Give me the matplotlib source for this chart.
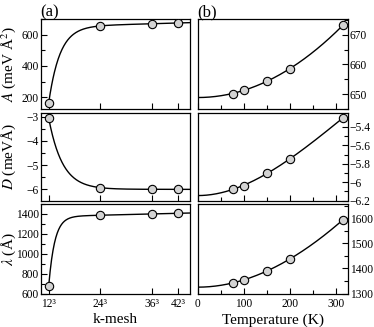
import numpy as np
import matplotlib
matplotlib.use("Agg")
import matplotlib.pyplot as plt
from matplotlib.ticker import MultipleLocator, FuncFormatter

plt.rcParams['font.family'] = ['Liberation Serif', 'DejaVu Serif']
plt.rcParams['mathtext.fontset'] = 'stix'
plt.rcParams['axes.unicode_minus'] = True

# k-mesh convergence (left column)
kmesh = [12, 24, 36, 42]
kmesh_labels = ['12³', '24³', '36³', '42³']
A_k = [166, 656, 669, 675]
D_k = [-3.07, -5.93, -6.0, -6.0]
lam_k = [680, 1388, 1398, 1408]

# temperature dependence (right column)
temps = [77, 100, 150, 200, 315]
A_T = [650.2, 651.4, 654.4, 658.6, 673.3]
D_T = [-6.073, -6.036, -5.90, -5.746, -5.30]
lam_T = [1343, 1354, 1391, 1438, 1595]


def fit_k(x, y, c):
    # saturating fit: a + b*k + d*exp(-(k-12)/c)
    x = np.asarray(x, float)
    M = np.column_stack([np.ones_like(x), x, np.exp(-(x - 12) / c)])
    coef, *_ = np.linalg.lstsq(M, np.asarray(y, float), rcond=None)
    xs = np.linspace(12, 45, 300)
    Ms = np.column_stack([np.ones_like(xs), xs, np.exp(-(xs - 12) / c)])
    return xs, Ms @ coef


def fit_T(x, y):
    # smooth fit with zero slope at T=0
    x = np.asarray(x, float)
    M = np.column_stack([np.ones_like(x), x ** 2, x ** 3])
    coef, *_ = np.linalg.lstsq(M, np.asarray(y, float), rcond=None)
    xs = np.linspace(0, x.max(), 300)
    Ms = np.column_stack([np.ones_like(xs), xs ** 2, xs ** 3])
    return xs, Ms @ coef


def fmt(v, pos):
    return ('%g' % v).replace('-', '\u2212')


fig = plt.figure(figsize=(3.74, 3.27), dpi=100)
rows = [(0.6667, 0.2752), (0.3862, 0.268), (0.1024, 0.2737)]
lefts = [(0.1096, 0.398), (0.529, 0.401)]
axes = [[fig.add_axes([l, b, w, h]) for (l, w) in lefts] for (b, h) in rows]

mk = dict(marker='o', ms=6, mfc='lightgray', mec='black', mew=0.8, ls='none', zorder=3)
ln = dict(color='black', lw=1.0)

left_data = [(A_k, 2.6, (125, 700), 200, 100),
             (D_k, 3.2, (-6.47, -2.85), 1, 0.5),
             (lam_k, 1.4, (600, 1500), 200, 100)]
right_data = [(A_T, (645, 675.3), 10, 5),
              (D_T, (-6.2, -5.25), 0.2, 0.1),
              (lam_T, (1300, 1657), 100, 50)]
ylabels = [r'$A$ (meV Å$^2$)', r'$D$ (meVÅ)', r'$\lambda$ (Å)']

for i in range(3):
    ax = axes[i][0]
    y, c, ylim, maj, mnr = left_data[i]
    xs, ys = fit_k(kmesh, y, c)
    ax.plot(xs, ys, **ln)
    ax.plot(kmesh, y, **mk)
    ax.set_xlim(10.2, 44.8)
    ax.set_ylim(*ylim)
    ax.set_xticks(kmesh)
    ax.yaxis.set_major_locator(MultipleLocator(maj))
    ax.yaxis.set_minor_locator(MultipleLocator(mnr))
    ax.yaxis.set_major_formatter(FuncFormatter(fmt))
    ax.set_ylabel(ylabels[i], fontsize=11)
    ax.yaxis.set_label_coords(-0.155, 0.5)
    if i == 2:
        ax.set_xticklabels(kmesh_labels)
        ax.set_xlabel('k-mesh', fontsize=11, labelpad=2.5)
    else:
        ax.set_xticklabels([])

    ax = axes[i][1]
    y, ylim, maj, mnr = right_data[i]
    xs, ys = fit_T(temps, y)
    ax.plot(xs, ys, **ln)
    ax.plot(temps, y, **mk)
    ax.set_xlim(0, 325)
    ax.set_ylim(*ylim)
    ax.xaxis.set_major_locator(MultipleLocator(100))
    ax.xaxis.set_minor_locator(MultipleLocator(50))
    ax.yaxis.set_major_locator(MultipleLocator(maj))
    ax.yaxis.set_minor_locator(MultipleLocator(mnr))
    ax.yaxis.set_major_formatter(FuncFormatter(fmt))
    ax.yaxis.tick_right()
    if i == 2:
        ax.set_xlabel('Temperature (K)', fontsize=11, labelpad=2.5)
    else:
        ax.set_xticklabels([])

for row in axes:
    for ax in row:
        ax.tick_params(which='both', direction='in', labelsize=8.3, pad=1.5)
        ax.tick_params(which='major', length=4, width=0.8)
        ax.tick_params(which='minor', length=3, width=0.8)
        for s in ax.spines.values():
            s.set_linewidth(0.9)
for ax in axes[2]:
    ax.tick_params(axis='x', which='major', pad=3)
axes[0][1].yaxis.set_ticks_position('right')

fig.text(0.107, 0.951, '(a)', fontsize=12)
fig.text(0.527, 0.951, '(b)', fontsize=12)

fig.savefig('out.png', dpi=100)
